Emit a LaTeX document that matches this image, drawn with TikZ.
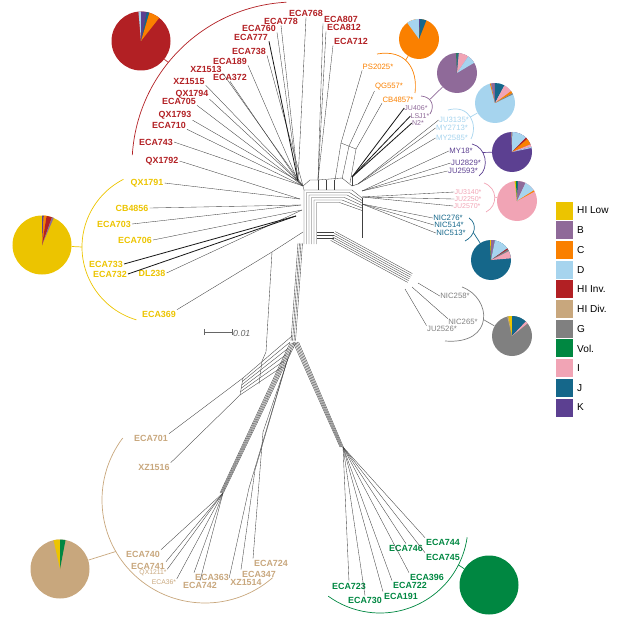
\documentclass[tikz,border=0pt]{standalone}
\usepackage{fontspec}
\setmainfont{Liberation Sans}
\usetikzlibrary{calc}

\definecolor{cLow}{RGB}{236,196,0}
\definecolor{cB}{RGB}{143,106,153}
\definecolor{cC}{RGB}{250,128,0}
\definecolor{cD}{RGB}{166,212,238}
\definecolor{cInv}{RGB}{178,32,36}
\definecolor{cDiv}{RGB}{200,167,125}
\definecolor{cG}{RGB}{128,128,128}
\definecolor{cVol}{RGB}{0,135,65}
\definecolor{cI}{RGB}{241,164,181}
\definecolor{cJ}{RGB}{21,103,138}
\definecolor{cK}{RGB}{92,64,145}

\tikzset{
	net/.style={line width=0.3pt, color=black!75},
	netdark/.style={line width=0.7pt, color=black!90},
	lab/.style={font=\bfseries\fontsize{7.6}{8}\selectfont, inner sep=0.8pt},
	starlab/.style={font=\fontsize{6.6}{7}\selectfont, inner sep=0.3pt},
	smallstar/.style={font=\fontsize{6}{6}\selectfont, inner sep=0pt},
	tinylab/.style={font=\fontsize{5.8}{6}\selectfont, inner sep=0.4pt},
	brace/.style={line width=0.6pt},
	pienode/.style={circle, inner sep=0pt, minimum size=#1*0.6mm},
	legbox/.style={inner sep=0pt, minimum width=5.1mm, minimum height=5.4mm},
	legtext/.style={font=\fontsize{8.6}{9}\selectfont, inner sep=0pt, anchor=west},
}

% arc round a centre: colour, centre, from, to, radius
\def\bracketarc#1#2#3#4#5{\draw[brace,#1] ([shift={(#3:#5)}]#2) arc[start angle=#3, end angle=#4, radius=#5];}
% wedges of a pie: centre, radius, first angle, share/colour list
\newcommand{\pieparts}[4]{%
	\xdef\pangle{#3}
	\foreach \share/\col in {#4} {
		\pgfmathsetmacro\pend{\pangle+3.6*\share}
		\fill[\col] (#1) -- ++(\pangle:#2) arc[start angle=\pangle, end angle=\pend, radius=#2] -- cycle;
		\xdef\pangle{\pend}
	}
}

\begin{document}
\begin{tikzpicture}[x=0.3mm, y=-0.3mm]
	%%%%% START %%%%%
	\useasboundingbox (0,0) rectangle (617,624);
	
	% hub points
	\coordinate (hR) at (298,181);
	\coordinate (hR2) at (303,186);
	\coordinate (hR3) at (318,180);
	\coordinate (hY) at (300,199);
	\coordinate (hY2) at (301,205);
	\coordinate (hY3) at (302,210);
	\coordinate (hY4) at (296,216);
	\coordinate (hY5) at (303,232);
	\coordinate (hB) at (352,177);
	\coordinate (hD) at (358,184);
	\coordinate (hK) at (362,191);
	\coordinate (hI) at (362,197);
	\coordinate (hJ) at (362,204);
	\coordinate (hG1) at (418,283);
	\coordinate (hG2) at (412,287);
	\coordinate (hG3) at (405,289);
	\coordinate (oB1) at (341,143);
	\coordinate (oB2) at (349,146);
	\coordinate (oB3) at (356,149);
	\coordinate (hT) at (223,493);
	\coordinate (hT1) at (243,378);
	\coordinate (hT2) at (240,395);
	\coordinate (hTb) at (249,488);
	\coordinate (hTc) at (255,470);
	\coordinate (hTd) at (263,432);
	\coordinate (hV) at (343,447);
	
	% hub boxes
	\foreach \d in {0,2.5,...,12.5}
		\draw[net] ({304+\d},244) -- ({304+\d},{190+\d}) -- ({352-\d},{190+\d}) -- (362,{198+\d});
	\draw[net] (hR) -- (hR2) -- (304,190);
	\draw[net] (hR2) -- (310,180) -- (hR3) -- (342,178) -- (352,186) -- (hD);
	\foreach \x in {318,326,334} \draw[net] (\x,180) -- (\x,190);
	\draw[net] (362,198) -- (362,238);
	\foreach \d in {0,3,6} \draw[net] (317,{232+\d}) -- (334,{232+\d});
	\draw[net] (hB) -- (352,186);
	
	% band to G
	\foreach \d in {-5,-3,...,5}
		\draw[net] ({333-0.47*\d},{236+0.88*\d}) -- ({410-0.47*\d},{278+0.88*\d});
	
	% trunk and lower branches
	\foreach \d in {0,1.5,3,4.5} \draw[net] ({298+\d},243) -- ({291+\d},341);
	\foreach \t in {0,0.2,...,1}
		\draw[net] ({292-10*\t},{336+31*\t}) -- ({243-3*\t},{378+17*\t});
	\draw[net] (hT1) -- (hT2);
	\draw[net] (262,361) -- (259,384);
	\foreach \d in {0,1.4,2.8,4.2,5.6} \draw[net] ({290+\d},343) -- ({220+\d*0.6},493);
	\draw[net] (291,350) -- (hTd);
	\draw[net] (288,358) -- (hTc);
	\draw[net] (286,364) -- (hTb);
	\foreach \d in {0,1.4,2.8,4.2,5.6} \draw[net] ({293+\d},342) -- ({340+\d*0.6},447);
	\draw[net] (272,252) -- (266,352) -- (262,361);
	
	% orange box
	\draw[net] (oB1) -- (oB3);
	\draw[net] (oB1) -- (335,180);
	\draw[net] (oB2) -- (342,179);
	\draw[net] (oB3) -- (350,183);
	
	% red labels
	\foreach \n/\x/\y in {ECA768/306/13, ECA778/281/21, ECA807/341/19, ECA812/344/27, ECA712/351/41, ECA760/259/28, ECA777/251/37, ECA738/249/51, ECA189/230/61, XZ1513/206/69, ECA372/230/77, XZ1515/189/81, QX1794/192/94, ECA705/179/101, QX1793/175/115, ECA710/169/125, ECA743/156/142, QX1792/162/161}
		\node[lab, cInv] (\n) at (\x,\y) {\n};
	\foreach \n/\a/\h in {ECA768/south/hR, ECA778/south/hR, ECA807/south west/hR3, ECA812/south west/hR3, ECA712/south west/hR3, ECA760/south east/hR, ECA738/south east/hR2, ECA189/south east/hR, XZ1513/south east/hR2, ECA372/south/hR, XZ1515/south east/hR2, QX1794/south east/hR, ECA705/south east/hR2, QX1793/south east/hR, ECA710/south east/hR2, ECA743/east/hR2, QX1792/east/hY}
		\draw[net] (\n.\a) -- (\h);
	\draw[netdark] (ECA777.south east) -- (hR);
	
	% yellow labels
	\foreach \n/\x/\y in {QX1791/147/183, CB4856/132/208, ECA703/114/224, ECA706/135/240, ECA733/106/264, ECA732/110/274, DL238/152/273, ECA369/159/314}
		\node[lab, cLow] (\n) at (\x,\y) {\n};
	\foreach \n/\a/\h in {QX1791/east/hY, CB4856/east/hY2, ECA703/east/hY2, ECA706/east/hY3, DL238/east/hY3}
		\draw[net] (\n.\a) -- (\h);
	\draw[netdark] (ECA733.east) -- (hY4);
	\draw[netdark] (ECA732.east) -- (hY4);
	\draw[net] (ECA369.north east) -- (272,252) -- (hY5);
	
	% orange, B, D, K, I, J, G labels
	\foreach \n/\x/\y in {PS2025/378/67, QG557/389/87, CB4857/398/100}
		\node[starlab, cC] (\n) at (\x,\y) {\n*};
	\foreach \n/\x/\y in {JU406/416/108, LSJ1/420/116, N2/418/123}
		\node[smallstar, cB] (\n) at (\x,\y) {\n*};
	\foreach \n/\x/\y in {JU3135/454/120, MY2713/452/128, MY2585/452/138}
		\node[starlab, cD] (\n) at (\x,\y) {\n*};
	\foreach \n/\x/\y in {MY18/461/151, JU2829/466/163, JU2593/463/171}
		\node[starlab, cK] (\n) at (\x,\y) {\n*};
	\foreach \n/\x/\y in {JU3140/468/192, JU2250/468/199, JU2570/467/206}
		\node[smallstar, cI] (\n) at (\x,\y) {\n*};
	\foreach \n/\x/\y in {NIC276/448/218, NIC514/449/225, NIC513/451/233}
		\node[starlab, cJ] (\n) at (\x,\y) {\n*};
	\foreach \n/\x/\y in {NIC258/455/296, NIC265/463/322, JU2526/442/329}
		\node[starlab, cG] (\n) at (\x,\y) {\n*};
	\foreach \n/\h in {PS2025/oB1, QG557/oB2, CB4857/oB3}
		\draw[net] (\n.south west) -- (\h);
	\foreach \n/\h in {JU406/hB, LSJ1/hB, N2/hB}
		\draw[netdark] (\n.west) -- (\h);
	\foreach \n/\h in {JU3135/hD, MY2713/hD, MY2585/hD, MY18/hK, JU2829/hK, JU2593/hK, JU3140/hI, JU2250/hI, JU2570/hI, NIC276/hJ, NIC514/hJ, NIC513/hJ, NIC258/hG1}
		\draw[net] (\n.west) -- (\h);
	\draw[net] (NIC265.north west) -- (hG2);
	\draw[net] (JU2526.north west) -- (hG3);
	
	% tan labels
	\foreach \n/\x/\y in {ECA701/151/438, XZ1516/154/467, ECA740/143/554, ECA741/148/566, ECA742/200/585, ECA363/212/577, XZ1514/246/582, ECA347/259/574, ECA724/271/563}
		\node[lab, cDiv] (\n) at (\x,\y) {\n};
	\node[tinylab, cDiv] (QX1211) at (153,573) {QX1211*};
	\node[tinylab, cDiv] (ECA36) at (164,582) {ECA36*};
	\draw[net] (ECA701.north east) -- (hT1);
	\draw[net] (XZ1516.north east) -- (hT2);
	\foreach \n/\a in {ECA740/north east, ECA741/north east, QX1211/north east, ECA36/north east, ECA742/north, ECA363/north west}
		\draw[net] (\n.\a) -- (hT);
	\draw[net] (XZ1514.north west) -- (hTb);
	\draw[net] (ECA347.north west) -- (hTc);
	\draw[net] (ECA724.north west) -- (hTd);
	
	% green labels
	\foreach \n/\x/\y in {ECA744/443/542, ECA746/406/548, ECA745/443/557, ECA396/427/577, ECA722/410/585, ECA723/349/586, ECA730/365/600, ECA191/401/596}
		\node[lab, cVol] (\n) at (\x,\y) {\n};
	\foreach \n/\a in {ECA744/north west, ECA746/north, ECA745/north west, ECA396/north west, ECA722/north west, ECA723/north, ECA730/north, ECA191/north west}
		\draw[net] (\n.\a) -- (hV);
	
	% brackets
	\bracketarc{cInv}{295,165}{183.5}{267}{163}
	\coordinate (bInv) at ([shift={(219:163)}]295,165);
	\bracketarc{cLow}{158,247}{106.5}{243}{76}
	\coordinate (bLow) at ([shift={(180:76)}]158,247);
	\bracketarc{cDiv}{205,500}{49}{217}{103}
	\coordinate (bDiv) at ([shift={(150:103)}]205,500);
	\bracketarc{cVol}{380,525}{8}{126}{88}
	\coordinate (bVol) at ([shift={(27:88)}]380,525);
	\draw[brace, cC] (377,54) .. controls (405,49) and (418,68) .. coordinate[pos=0.45] (bC) (415,93);
	\draw[brace, cB] (421,96) .. controls (432,97) and (435,106) .. coordinate[pos=0.35] (bB) (430,114);
	\draw[brace, cD] (448,110) .. controls (470,104) and (478,125) .. coordinate[pos=0.5] (bD) (471,139);
	\draw[brace, cK] (472,144) .. controls (486,147) and (490,168) .. coordinate[pos=0.35] (bK) (479,176);
	\draw[brace, cI] (484,183) .. controls (498,188) and (498,206) .. coordinate[pos=0.5] (bI) (486,212);
	\draw[brace, cJ] (469,218) .. controls (478,224) and (475,236) .. coordinate[pos=0.6] (bJ) (465,241);
	\draw[brace, cG] (462,287) .. controls (492,298) and (495,345) .. coordinate[pos=0.5] (bG) (445,341);
	
	% pies
	\node[pienode=29.5, fill=cInv] (pInv) at (141,41) {};
	\pieparts{pInv.center}{29.5}{-95}{1.5/cD, 3/cK, 1.5/cJ, 6/cC}
	\node[pienode=20, fill=cC] (pC) at (419,39) {};
	\pieparts{pC.center}{20}{-126}{10/cD, 1/cK, 5/cJ}
	\node[pienode=20, fill=cB] (pB) at (457,73) {};
	\pieparts{pB.center}{20}{-92}{1/cVol, 1/cJ, 8/cI, 7/cD}
	\node[pienode=20, fill=cD] (pD) at (495,103) {};
	\pieparts{pD.center}{20}{-105}{1/cC, 3/cB, 8/cJ, 7/cI, 2/cC, 1/cG}
	\node[pienode=20, fill=cK] (pK) at (512,152) {};
	\pieparts{pK.center}{20}{-92}{0.8/cDiv, 12/cD, 1.5/cInv, 5/cC, 2/cI, 1/cD}
	\node[pienode=20, fill=cI] (pI) at (517,201) {};
	\pieparts{pI.center}{20}{-97}{1/cLow, 1/cVol, 1/cJ, 6/cB, 9/cD, 1/cC}
	\node[pienode=20, fill=cJ] (pJ) at (491,260) {};
	\pieparts{pJ.center}{20}{-93}{1/cLow, 3/cB, 12/cD, 1/cInv, 1.5/cG, 6/cI}
	\node[pienode=20, fill=cG] (pG) at (512,336) {};
	\pieparts{pG.center}{20}{-104}{1/cDiv, 3/cLow, 12/cJ, 2/cI}
	\node[pienode=29.5, fill=cLow] (pLow) at (42,245) {};
	\pieparts{pLow.center}{29.5}{-90}{1/cK, 1.5/cC, 3/cInv, 1/cB}
	\node[pienode=29.5, fill=cDiv] (pDiv) at (60,569) {};
	\pieparts{pDiv.center}{29.5}{-102.6}{3.5/cLow, 3/cVol}
	\node[pienode=29.5, fill=cVol] (pVol) at (489,585) {};
	
	\foreach \p/\b/\c in {pInv/bInv/cInv, pLow/bLow/cLow, pDiv/bDiv/cDiv, pVol/bVol/cVol, pC/bC/cC, pB/bB/cB, pD/bD/cD, pK/bK/cK, pI/bI/cI, pJ/bJ/cJ, pG/bG/cG}
		\draw[brace, \c] (\p) -- (\b);
	
	% scale bar
	\draw[line width=0.5pt, color=black!60] (204,329) -- (204,335) (204,332) -- (232,332) (232,329) -- (232,335);
	\node[font=\itshape\fontsize{7.5}{8}\selectfont, color=black!60, anchor=west, inner sep=0pt] (scale) at (233,333) {0.01};
	
	% legend
	\foreach \lab/\col [count=\i from 0] in {HI Low/cLow, B/cB, C/cC, D/cD, HI Inv./cInv, HI Div./cDiv, G/cG, Vol./cVol, I/cI, J/cJ, K/cK} {
		\node[legbox, fill=\col] (key\i) at (564.5,{210.5+19.7*\i}) {};
		\node[legtext] (keytext\i) at (577,{210.5+19.7*\i}) {\lab};
	}
	%%%%% END %%%%%
\end{tikzpicture}
\end{document}
